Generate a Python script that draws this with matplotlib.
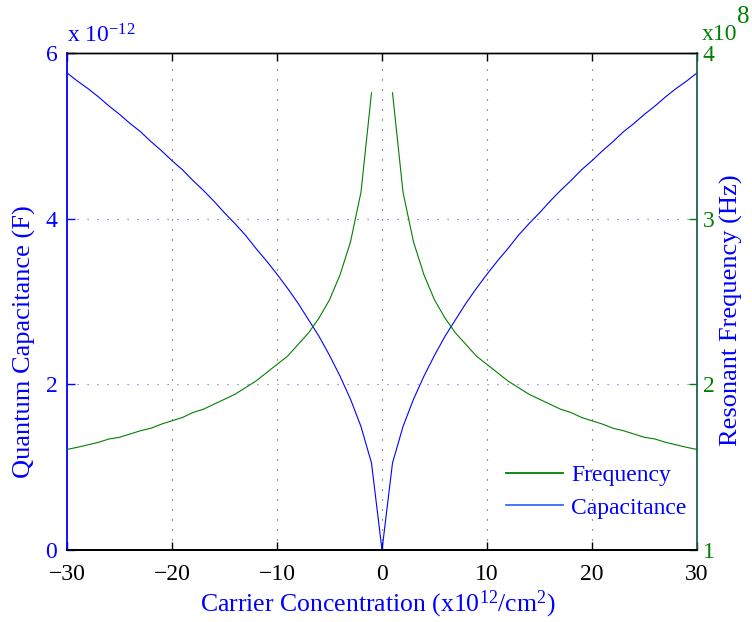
import matplotlib
matplotlib.use("Agg")
import matplotlib.pyplot as plt
import numpy as np

plt.rcParams['font.family'] = ['Liberation Serif', 'DejaVu Serif']
plt.rcParams['mathtext.fontset'] = 'stix'
plt.rcParams['mathtext.default'] = 'regular'

# Carrier concentration (x10^12 / cm^2)
carrier = list(range(-30, 31))

# Quantum capacitance (x10^-12 F), for |n| = 0..30
cap_pos = [0.00, 1.05, 1.49, 1.82, 2.10, 2.35, 2.58, 2.78, 2.98, 3.16,
           3.33, 3.49, 3.64, 3.80, 3.94, 4.07, 4.21, 4.34, 4.46, 4.59,
           4.70, 4.82, 4.93, 5.05, 5.15, 5.26, 5.36, 5.47, 5.57, 5.66, 5.76]

# Resonant frequency (x10^8 Hz), for |n| = 0..30 (undefined at 0)
freq_pos = [np.nan, 3.76, 3.16, 2.86, 2.66, 2.51, 2.40, 2.31, 2.24, 2.17,
            2.12, 2.07, 2.02, 1.98, 1.94, 1.91, 1.88, 1.85, 1.83, 1.80,
            1.78, 1.76, 1.735, 1.72, 1.70, 1.68, 1.67, 1.65, 1.635, 1.62, 1.607]

capacitance = cap_pos[:0:-1] + cap_pos
frequency = freq_pos[:0:-1] + freq_pos

xticks = [-30, -20, -10, 0, 10, 20, 30]
yticks_left = [0, 2, 4, 6]
yticks_right = [1, 2, 3, 4]

BLUE = '#0000ff'
GREEN = '#008000'

fig = plt.figure(figsize=(7.52, 6.22), dpi=100)
ax = fig.add_axes([67/752, 1-550/622, 630/752, 497/622])
ax2 = ax.twinx()

lc, = ax.plot(carrier, capacitance, color=BLUE, lw=0.8)
lf, = ax2.plot(carrier, frequency, color=GREEN, lw=0.8)

ax.set_xlim(-30, 30)
ax.set_ylim(0, 6)
ax2.set_ylim(1, 4)
ax.set_xticks(xticks)
ax.set_yticks(yticks_left)
ax2.set_yticks(yticks_right)

# grid
dot = (0, (1, 8))
for xv in xticks[1:-1]:
    ax.axvline(xv, color='#404040', lw=0.8, ls=dot, zorder=0)
for yv in yticks_left[1:-1]:
    ax.axhline(yv, color='#5555ff', lw=0.8, ls=dot, zorder=0)

ax.tick_params(axis='x', direction='in', top=True, length=6, width=1,
               labelsize=17, colors='black', pad=10)
ax.tick_params(axis='y', direction='in', length=6, width=1,
               labelsize=17, colors=BLUE, pad=7)
ax2.tick_params(axis='y', direction='in', length=6, width=1,
                labelsize=17, colors=GREEN, pad=4)

for a in (ax, ax2):
    a.spines['top'].set_color('black')
    a.spines['bottom'].set_color('black')
    a.spines['bottom'].set_linewidth(1.4)
    a.spines['top'].set_linewidth(1.0)
ax.spines['left'].set_color(BLUE)
ax.spines['left'].set_linewidth(1.3)
ax2.spines['left'].set_visible(False)
ax2.spines['right'].set_color('#1f5f55')
ax2.spines['right'].set_linewidth(1.3)
ax.spines['right'].set_visible(False)

# axis labels
fig.text(378/752, 1-604/622, 'Carrier Concentration (x10$^{12}$/cm$^{2}$)',
         color=BLUE, fontsize=18.5, ha='center', va='center')
fig.text(24/752, 1-342/622, 'Quantum Capacitance (F)', color=BLUE,
         fontsize=19, rotation=90, ha='center', va='center')
fig.text(731/752, 1-310/622, 'Resonant Frequency (Hz)', color=BLUE,
         fontsize=19, rotation=90, ha='center', va='center')

# exponent labels
fig.text(67/752, 1-36/622, 'x 10$^{-12}$', color=BLUE, fontsize=17,
         ha='left', va='center')
fig.text(702/752, 1-34/622, 'x10', color=GREEN, fontsize=17,
         ha='left', va='center')
fig.text(737/752, 1-17/622, '8', color=GREEN, fontsize=18,
         ha='left', va='center')

# legend
leg = ax.legend([lf, lc], ['Frequency', 'Capacitance'], loc='lower right',
                bbox_to_anchor=(696/752, 1-528/622), bbox_transform=fig.transFigure,
                frameon=False, fontsize=17, handlelength=2.4, handletextpad=0.35,
                labelspacing=0.45, borderaxespad=0)
for t in leg.get_texts():
    t.set_color(BLUE)
for ln in leg.get_lines():
    ln.set_linewidth(1.3)
leg.get_lines()[1].set_color('#3070f0')

fig.savefig('out.png', dpi=100)
